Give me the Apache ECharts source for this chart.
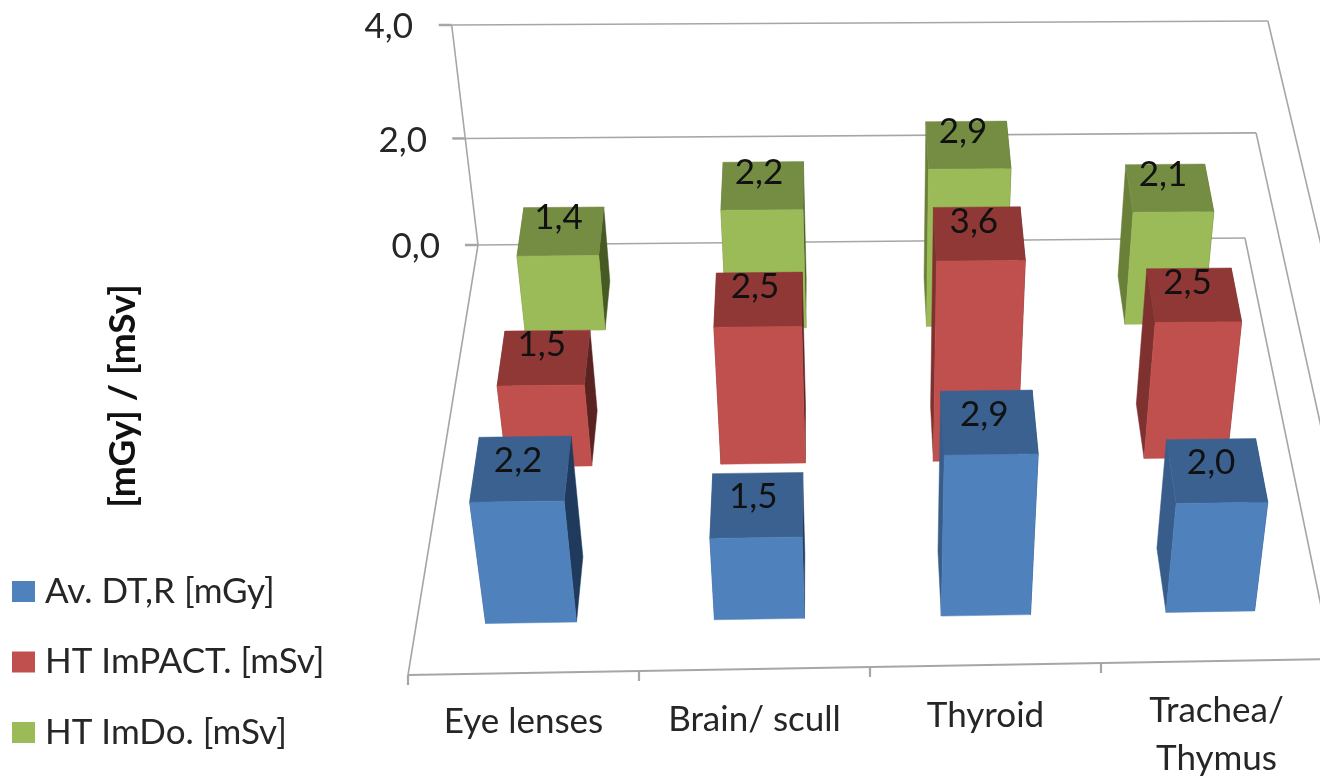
<!DOCTYPE html>
<html><head><meta charset="utf-8">
<style>html,body{margin:0;padding:0;background:#fff}#c{width:1320px;height:777px}</style>
<script src="https://cdn.jsdelivr.net/npm/echarts@6/dist/echarts.min.js"></script>
</head><body><div id="c"></div>
<script>
var categories = ['Eye lenses', 'Brain/ scull', 'Thyroid', 'Trachea/\nThymus'];
var seriesNames = ['Av. DT,R [mGy]', 'HT ImPACT. [mSv]', 'HT ImDo. [mSv]'];
var avDT = [2.2, 1.5, 2.9, 2.0];
var htImpact = [1.5, 2.5, 3.6, 2.5];
var htImdo = [1.4, 2.2, 2.9, 2.1];
var yTicks = [0, 2, 4];

var FONT = 'Lato';
var FS = 35;
var TEXT = '#262626';
var LINE = '#a6a6a6';
var GL = 408, GW = 924, GT = 27, GH = 220;

/* perspective floor: front-left, front-right, back-right, back-left */
var A = [408, 675], B = [1332, 659], C = [1245, 238], D = [478, 245];
var VP = [885, 3650];           /* vanishing point of the vertical edges */
var frontShrink = 0.025;        /* height calibration towards the front of the floor */
var dx1 = B[0]-C[0], dy1 = B[1]-C[1], dx2 = D[0]-C[0], dy2 = D[1]-C[1];
var sx = A[0]-B[0]+C[0]-D[0], sy = A[1]-B[1]+C[1]-D[1];
var det = dx1*dy2-dx2*dy1;
var g = (sx*dy2-dx2*sy)/det, h = (dx1*sy-sx*dy1)/det;
var a = B[0]-A[0]+g*B[0], b = D[0]-A[0]+h*D[0], c0 = A[0];
var d = B[1]-A[1]+g*B[1], e = D[1]-A[1]+h*D[1], f = A[1];
var tt = (25-245)/(VP[1]-245);
var k = (tt*(h+1)/(1-tt))/GH;   /* homogeneous weight per pixel of height */
function P(s, t, z) {
  var zz = z*(1-frontShrink*(1-t));
  var W = g*s+h*t+1+zz*k;
  return [(a*s+b*t+c0+zz*k*VP[0])/W, (d*s+e*t+f+zz*k*VP[1])/W];
}

var rowFront = [0.099, 0.435, 0.767];
var rowDepth = [0.135, 0.13, 0.13];
var labelDepth = [0.62, 0.73, 0.78];
var barShare = 0.198;

var palettes = [
  {front:'#4f81bd', top:'#3a6190', left:'#385d8a', right:'#1f3a5c'},
  {front:'#c0504d', top:'#8f3836', left:'#7f3130', right:'#5a2322'},
  {front:'#9bbb59', top:'#758d43', left:'#6a8038', right:'#475a24'}
];

function poly(pts, color) {
  return {type:'polygon', shape:{points:pts}, style:{fill:color, stroke:color, lineWidth:0.5}};
}
function barRenderer(row) {
  return function (params, api) {
    var i = api.value(0), v = api.value(1);
    var p0 = api.coord([i, 0]), p1 = api.coord([i, v]);
    var band = api.coord([1, 0])[0]-api.coord([0, 0])[0];
    var z = p0[1]-p1[1];
    var sc = (p0[0]-GL)/GW, hw = band*barShare/GW;
    var s0 = sc-hw, s1 = sc+hw, t0 = rowFront[row], t1 = t0+rowDepth[row];
    var col = palettes[row];
    var lbl = P(sc, t0+rowDepth[row]*labelDepth[row], z);
    return {type:'group', children:[
      poly([P(s0,t0,0),P(s0,t1,0),P(s0,t1,z),P(s0,t0,z)], col.left),
      poly([P(s1,t0,0),P(s1,t1,0),P(s1,t1,z),P(s1,t0,z)], col.right),
      poly([P(s0,t0,z),P(s1,t0,z),P(s1,t1,z),P(s0,t1,z)], col.top),
      poly([P(s0,t0,0),P(s1,t0,0),P(s1,t0,z),P(s0,t0,z)], col.front),
      {type:'text', z2:10, style:{x:lbl[0]-4, y:lbl[1], text:v.toFixed(1).replace('.', ','),
        font:FS+'px '+FONT, fill:'#111', align:'center', verticalAlign:'middle'}}
    ]};
  };
}
function seg(p, q, w) {
  return {type:'line', shape:{x1:p[0], y1:p[1], x2:q[0], y2:q[1]}, style:{stroke:LINE, lineWidth:w||1.6}};
}
function frameRenderer(params, api) {
  var kids = [];
  var zTop = api.coord([0, 0])[1]-api.coord([0, yTicks[yTicks.length-1]])[1];
  kids.push(seg(P(0,1,0), P(0,1,zTop)));
  kids.push(seg(P(0,1,0), P(0,0,0)));
  kids.push(seg(A, B, 2));
  yTicks.forEach(function (t) {
    var z = api.coord([0, 0])[1]-api.coord([0, t])[1];
    var p = P(0,1,z);
    kids.push(seg(p, P(1,1,z)));
    kids.push(seg(P(1,1,z), P(1,0,z)));
    kids.push(seg([p[0]-13, p[1]], p, 2.5));
  });
  var band = api.coord([1, 0])[0]-api.coord([0, 0])[0];
  for (var n = 0; n <= categories.length; n++) {
    var frac = n/categories.length;
    var q = [GL+n*band, A[1]+(B[1]-A[1])*frac];
    kids.push(seg(q, [q[0], q[1]+10], 2.2));
  }
  return {type:'group', children:kids};
}
function rows(values) { return values.map(function (v, i) { return [i, v]; }); }

function richLabel(lh) { return {lineHeight:lh, fontFamily:FONT, fontSize:FS, color:TEXT}; }
var option = {
  animation:false,
  backgroundColor:'#fff',
  textStyle:{fontFamily:FONT},
  grid:[
    {left:GL, width:GW, top:GT, height:GH, containLabel:false, outerBoundsMode:'none'},
    {left:GL, width:GW, top:GT, height:648, containLabel:false, outerBoundsMode:'none'}
  ],
  xAxis:[
    {type:'category', gridIndex:0, data:categories, show:false},
    {type:'category', gridIndex:1, data:categories,
     axisLine:{show:false}, axisTick:{show:false},
     axisLabel:{interval:0, margin:25, fontFamily:FONT, fontSize:FS, color:TEXT, verticalAlign:'top',
       formatter:function (val, i) {
         var parts = val.split('\n');
         if (parts.length > 1) return '{e3|'+parts[0]+'}\n{e4|'+parts[1]+'}';
         return '{e'+i+'|'+val+'}';
       },
       rich:{e0:richLabel(44), e1:richLabel(40), e2:richLabel(32), e3:richLabel(22), e4:richLabel(74)}}}
  ],
  yAxis:[
    {type:'value', gridIndex:0, min:0, max:4, interval:2, offset:-40,
     axisLine:{show:false}, axisTick:{show:false}, splitLine:{show:false},
     axisLabel:{margin:8, formatter:function (v) {
         return '{t'+v+'|'+v.toFixed(1).replace('.', ',')+'}';
       },
       rich:{
         t0:{fontFamily:FONT,fontSize:FS,color:TEXT},
         t2:{fontFamily:FONT,fontSize:FS,color:TEXT,padding:[8,13,0,0]},
         t4:{fontFamily:FONT,fontSize:FS,color:TEXT,padding:[0,27,0,0]}
       }}},
    {type:'value', gridIndex:1, show:false}
  ],
  legend:{orient:'vertical', left:12, top:574, padding:0, itemWidth:23, itemHeight:21, itemGap:35.5, align:'left',
    data:seriesNames.map(function (n) { return {name:n, icon:'rect'}; }),
    selectedMode:false,
    textStyle:{fontFamily:FONT, fontSize:FS, color:TEXT, padding:[0,0,0,5]}},
  graphic:[{type:'text', x:123, y:396, rotation:Math.PI/2, silent:true,
    style:{text:'[mGy] / [mSv]', font:'bold 37px '+FONT, fill:'#111', align:'center', verticalAlign:'middle'}}],
  series:[
    {type:'custom', name:'frame', xAxisIndex:0, yAxisIndex:0, z:1, clip:false, silent:true, data:[[0,0]], renderItem:frameRenderer},
    {type:'custom', name:seriesNames[2], xAxisIndex:0, yAxisIndex:0, z:2, clip:false, itemStyle:{color:palettes[2].front}, data:rows(htImdo), renderItem:barRenderer(2)},
    {type:'custom', name:seriesNames[1], xAxisIndex:0, yAxisIndex:0, z:3, clip:false, itemStyle:{color:palettes[1].front}, data:rows(htImpact), renderItem:barRenderer(1)},
    {type:'custom', name:seriesNames[0], xAxisIndex:0, yAxisIndex:0, z:4, clip:false, itemStyle:{color:palettes[0].front}, data:rows(avDT), renderItem:barRenderer(0)}
  ]
};
echarts.init(document.getElementById('c'), null, {renderer:'canvas'}).setOption(option);
</script></body></html>
